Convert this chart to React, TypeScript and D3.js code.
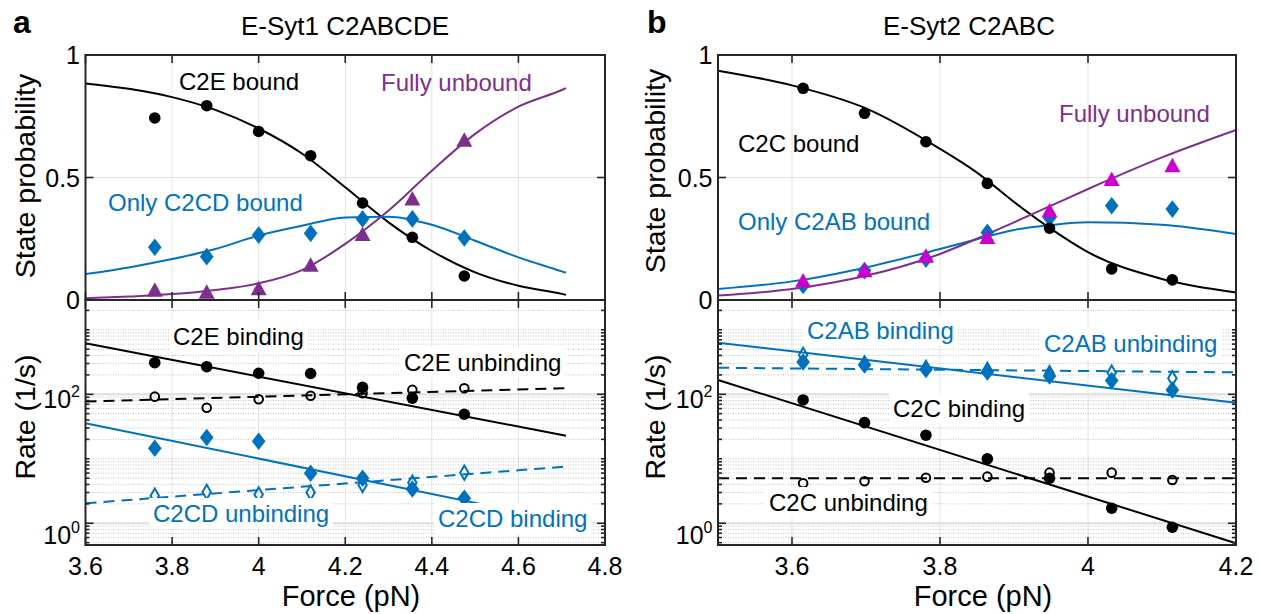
import React, { useEffect, useRef } from 'react';
import * as d3 from 'd3';

const W = 1261;
const H = 614;

const BLACK = '#000000';
const BLUE = '#0072BD';
const PURPLE = '#7E2F8E';
const MAGENTA = '#CC00CC';
const AXIS = '#262626';

// ---- panel a : E-Syt1 C2ABCDE ----
const A_X_TICKS = [3.6, 3.8, 4.0, 4.2, 4.4, 4.6, 4.8];
const A_FORCE = [3.76, 3.88, 4.0, 4.12, 4.24, 4.355, 4.475];
const A_C2E_BOUND = [0.743, 0.793, 0.688, 0.589, 0.396, 0.256, 0.098];
const A_C2CD_BOUND = [0.215, 0.177, 0.265, 0.272, 0.331, 0.331, 0.253];
const A_UNBOUND = [0.038, 0.03, 0.044, 0.14, 0.265, 0.41, 0.65];

const A_FIT_FORCE = [3.6, 3.7, 3.8, 3.9, 4.0, 4.1, 4.2, 4.3, 4.4, 4.5, 4.6, 4.7, 4.71];
const A_FIT_C2E = [0.884, 0.862, 0.828, 0.776, 0.7, 0.598, 0.46, 0.317, 0.2, 0.113, 0.058, 0.025, 0.021];
const A_FIT_C2CD = [0.106, 0.133, 0.167, 0.208, 0.263, 0.303, 0.337, 0.34, 0.307, 0.242, 0.174, 0.117, 0.111];
const A_FIT_UNBOUND = [0.007, 0.014, 0.024, 0.041, 0.068, 0.122, 0.229, 0.365, 0.528, 0.678, 0.789, 0.857, 0.865];

const A_C2E_ON = [309, 268, 212, 210, 128, 87, 49];
const A_C2E_OFF = [92, 62, 84, 95, 104, 117, 124];
const A_C2CD_ON = [14.6, 21.4, 18.7, 5.96, 4.99, 3.4, 2.44];
const A_C2CD_OFF = [2.67, 3.06, 2.8, 3.0, 3.93, 4.26, 6.09];

const A_RATE_FIT_FORCE = [3.6, 4.71];
const A_FIT_C2E_ON = [618, 22.8];
const A_FIT_C2E_OFF = [77, 124];
const A_FIT_C2CD_ON = [35.6, 1.07];
const A_FIT_C2CD_OFF = [2.04, 7.55];

// ---- panel b : E-Syt2 C2ABC ----
const B_X_TICKS = [3.6, 3.8, 4.0, 4.2];
const B_FORCE = [3.615, 3.698, 3.781, 3.864, 3.948, 4.032, 4.114];
const B_C2C_BOUND = [0.864, 0.762, 0.646, 0.476, 0.293, 0.127, 0.082];
const B_C2AB_BOUND = [0.059, 0.12, 0.167, 0.276, 0.335, 0.385, 0.371];
const B_UNBOUND = [0.076, 0.117, 0.177, 0.253, 0.361, 0.49, 0.546];

const B_FIT_FORCE = [3.5, 3.6, 3.7, 3.8, 3.85, 3.9, 3.95, 4.0, 4.1, 4.2];
const B_FIT_C2C = [0.936, 0.876, 0.782, 0.617, 0.52, 0.4, 0.29, 0.195, 0.086, 0.031];
const B_FIT_C2AB = [0.045, 0.076, 0.133, 0.208, 0.248, 0.286, 0.306, 0.317, 0.307, 0.269];
const B_FIT_UNBOUND = [0.018, 0.045, 0.099, 0.188, 0.25, 0.317, 0.385, 0.453, 0.582, 0.694];

const B_C2C_ON = [81.7, 36.3, 23.2, 10.0, 4.99, 1.71, 0.867];
const B_C2C_OFF = [4.17, 4.48, 5.08, 5.28, 6.09, 6.09, 4.69];
const B_C2AB_ON = [317, 285, 243, 222, 192, 163, 117];
const B_C2AB_OFF = [407, 301, 256, 238, 212, 216, 177];

const B_RATE_FIT_FORCE = [3.5, 4.2];
const B_FIT_C2C_ON = [167, 0.49];
const B_FIT_C2C_OFF = [4.99, 4.99];
const B_FIT_C2AB_ON = [631, 74];
const B_FIT_C2AB_OFF = [258, 219];

const PROB_TICKS = [0, 0.5, 1];
const RATE_TICKS = [1, 100];
const RATE_TICK_EXP = ['0', '2'];
const RATE_DOMAIN = [0.46, 2900];

const FONT = '"Liberation Sans", Arial, Helvetica, sans-serif';

const fmt = (v: number) => String(+v.toFixed(1));

function txt(g: any, x: number, y: number, s: string, o: any = {}) {
  const t = g.append('text')
    .attr('x', x)
    .attr('y', y)
    .attr('fill', o.color || '#000')
    .attr('text-anchor', o.anchor || 'start')
    .style('font-size', `${o.size || 24}px`)
    .text(s);
  if (o.bold) t.style('font-weight', 'bold');
  if (o.rotate) t.attr('transform', `rotate(-90,${x},${y})`);
  if (o.bg) {
    const b = t.node().getBBox();
    g.insert('rect', () => t.node())
      .attr('x', b.x - 4)
      .attr('y', b.y - 2)
      .attr('width', b.width + 8)
      .attr('height', b.height + 4)
      .attr('fill', '#fff');
  }
  return t;
}

function marker(g: any, xs: number[], ys: number[], x: any, y: any, kind: string, color: string) {
  const diamond = (w: number, h: number) => `M0,${-h}L${w},0L0,${h}L${-w},0Z`;
  xs.forEach((f, i) => {
    const cx = x(f);
    const cy = y(ys[i]);
    let el;
    if (kind === 'dot') {
      el = g.append('circle').attr('r', 5.8).attr('fill', color);
    } else if (kind === 'ring') {
      el = g.append('circle').attr('r', 4.3).attr('fill', 'none').attr('stroke', color).attr('stroke-width', 2);
    } else if (kind === 'diamond') {
      el = g.append('path').attr('d', diamond(6.8, 8.8)).attr('fill', color);
    } else if (kind === 'odiamond') {
      el = g.append('path').attr('d', diamond(4.2, 7.2)).attr('fill', 'none').attr('stroke', color).attr('stroke-width', 2);
    } else {
      el = g.append('path').attr('d', 'M0,-8.5L8,6L-8,6Z').attr('fill', color);
    }
    el.attr('transform', `translate(${cx},${cy})`);
  });
}

function frame(g: any, x: any, y: any, xTicks: number[], yMajor: number[], yMinor: number[]) {
  const [x0, x1] = x.range();
  const [yb, yt] = y.range();
  const tick = (a: number, b: number, c: number, d: number) =>
    g.append('line').attr('x1', a).attr('y1', b).attr('x2', c).attr('y2', d)
      .attr('stroke', AXIS).attr('stroke-width', 1.6);
  xTicks.forEach(t => {
    tick(x(t), yb, x(t), yb - 8);
    tick(x(t), yt, x(t), yt + 8);
  });
  yMajor.forEach(t => {
    tick(x0, y(t), x0 + 8, y(t));
    tick(x1, y(t), x1 - 8, y(t));
  });
  yMinor.forEach(t => {
    tick(x0, y(t), x0 + 4, y(t));
    tick(x1, y(t), x1 - 4, y(t));
  });
  g.append('rect')
    .attr('x', x0).attr('y', yt)
    .attr('width', x1 - x0).attr('height', yb - yt)
    .attr('fill', 'none').attr('stroke', AXIS).attr('stroke-width', 2);
}

function drawPanel(svg: any, p: any) {
  const g = svg.append('g');
  const x = d3.scaleLinear().domain(p.xDomain).range([p.left, p.right]);
  const yP = d3.scaleLinear().domain([0, 1]).range([300, 55]);
  const yR = d3.scaleLog().domain(RATE_DOMAIN).range([545, 300]);

  // minor log ticks
  const minor: number[] = [];
  for (let e = -1; e <= 3; e++) {
    for (let k = 1; k <= 9; k++) {
      const v = k * Math.pow(10, e);
      if (v > RATE_DOMAIN[0] && v < RATE_DOMAIN[1] && !RATE_TICKS.includes(v)) minor.push(v);
    }
  }

  // ----- grids -----
  const inner = p.xTicks.filter((t: number) => x(t) > p.left + 1 && x(t) < p.right - 1);
  inner.forEach((t: number) => {
    g.append('line').attr('x1', x(t)).attr('x2', x(t)).attr('y1', 55).attr('y2', 545)
      .attr('stroke', '#e3e3e3').attr('stroke-width', 1);
  });
  g.append('line').attr('x1', p.left).attr('x2', p.right).attr('y1', yP(0.5)).attr('y2', yP(0.5))
    .attr('stroke', '#e3e3e3').attr('stroke-width', 1);
  minor.forEach(v => {
    g.append('line').attr('x1', p.left).attr('x2', p.right).attr('y1', yR(v)).attr('y2', yR(v))
      .attr('stroke', '#c4c4c4').attr('stroke-width', 1).attr('stroke-dasharray', '1,1.5');
  });
  RATE_TICKS.forEach(v => {
    g.append('line').attr('x1', p.left).attr('x2', p.right).attr('y1', yR(v)).attr('y2', yR(v))
      .attr('stroke', '#e2e2e2').attr('stroke-width', 2.5);
  });

  // ----- probability fits -----
  const probLine = (fx: number[]) => d3.line<number>()
    .x((_, i) => x(fx[i]))
    .y(d => yP(d))
    .curve(d3.curveMonotoneX);
  p.probFits.forEach((s: any) => {
    g.append('path').datum(s.values).attr('d', probLine(p.fitForce))
      .attr('fill', 'none').attr('stroke', s.color).attr('stroke-width', 2);
  });
  p.probPoints.forEach((s: any) => marker(g, p.force, s.values, x, yP, s.kind, s.color));

  // ----- rate fits -----
  const rateLine = (fx: number[]) => d3.line<number>()
    .x((_, i) => x(fx[i]))
    .y(d => yR(d));
  p.rateFits.forEach((s: any) => {
    const path = g.append('path').datum(s.values).attr('d', rateLine(p.rateFitForce))
      .attr('fill', 'none').attr('stroke', s.color).attr('stroke-width', 2);
    if (s.dashed) path.attr('stroke-dasharray', '11,7');
  });
  p.ratePoints.forEach((s: any) => marker(g, p.force, s.values, x, yR, s.kind, s.color));

  // ----- text labels -----
  p.probLabels.forEach((l: any) => txt(g, l.x, l.y, l.text, { color: l.color, size: 24 }));
  p.rateLabels.forEach((l: any) => txt(g, l.x, l.y, l.text, { color: l.color, size: 24, bg: true }));

  // ----- frames and ticks -----
  frame(g, x, yP, p.xTicks, PROB_TICKS, []);
  frame(g, x, yR, p.xTicks, RATE_TICKS, minor);

  // ----- tick labels -----
  p.xTicks.forEach((t: number) => txt(g, x(t), 575, fmt(t), { anchor: 'middle', size: 25 }));
  PROB_TICKS.forEach(t => txt(g, p.left - 5.5, yP(t) + 9, fmt(t), { anchor: 'end', size: 25 }));
  RATE_TICKS.forEach((t, i) => {
    const te = txt(g, p.left - 5.5, yR(t) + (i === 0 ? 21 : 14), '10', { anchor: 'end', size: 25 });
    te.append('tspan').attr('dy', -11).style('font-size', '16px').text(RATE_TICK_EXP[i]);
  });

  // ----- axis titles -----
  txt(g, p.xLabelX, 606, 'Force (pN)', { anchor: 'middle', size: 29 });
  txt(g, p.yLabelX, p.probLabelY, 'State probability', { anchor: 'middle', size: 28.5, rotate: true });
  txt(g, p.yLabelX, 417, 'Rate (1/s)', { anchor: 'middle', size: 28.5, rotate: true });
  txt(g, p.titleX, 35, p.title, { anchor: 'middle', size: 26 });
  txt(g, p.letterX, 33, p.letter, { size: 32, bold: true });
}

const PANEL_A = {
  left: 85.5, right: 605, xDomain: [3.6, 4.8], xTicks: A_X_TICKS,
  force: A_FORCE, fitForce: A_FIT_FORCE, rateFitForce: A_RATE_FIT_FORCE,
  probFits: [
    { values: A_FIT_C2E, color: BLACK },
    { values: A_FIT_C2CD, color: BLUE },
    { values: A_FIT_UNBOUND, color: PURPLE },
  ],
  probPoints: [
    { values: A_C2E_BOUND, kind: 'dot', color: BLACK },
    { values: A_C2CD_BOUND, kind: 'diamond', color: BLUE },
    { values: A_UNBOUND, kind: 'tri', color: PURPLE },
  ],
  rateFits: [
    { values: A_FIT_C2E_ON, color: BLACK },
    { values: A_FIT_C2E_OFF, color: BLACK, dashed: true },
    { values: A_FIT_C2CD_ON, color: BLUE },
    { values: A_FIT_C2CD_OFF, color: BLUE, dashed: true },
  ],
  ratePoints: [
    { values: A_C2E_ON, kind: 'dot', color: BLACK },
    { values: A_C2E_OFF, kind: 'ring', color: BLACK },
    { values: A_C2CD_ON, kind: 'diamond', color: BLUE },
    { values: A_C2CD_OFF, kind: 'odiamond', color: BLUE },
  ],
  probLabels: [
    { text: 'C2E bound', x: 179, y: 90, color: BLACK },
    { text: 'Fully unbound', x: 381, y: 91, color: PURPLE },
    { text: 'Only C2CD bound', x: 108, y: 211, color: BLUE },
  ],
  rateLabels: [
    { text: 'C2E binding', x: 173, y: 345, color: BLACK },
    { text: 'C2E unbinding', x: 404, y: 371, color: BLACK },
    { text: 'C2CD unbinding', x: 153, y: 522, color: BLUE },
    { text: 'C2CD binding', x: 438, y: 527, color: BLUE },
  ],
  xLabelX: 351, yLabelX: 35, probLabelY: 176,
  title: 'E-Syt1 C2ABCDE', titleX: 345, letter: 'a', letterX: 13,
};

const PANEL_B = {
  left: 718, right: 1236, xDomain: [3.5, 4.2], xTicks: B_X_TICKS,
  force: B_FORCE, fitForce: B_FIT_FORCE, rateFitForce: B_RATE_FIT_FORCE,
  probFits: [
    { values: B_FIT_C2C, color: BLACK },
    { values: B_FIT_C2AB, color: BLUE },
    { values: B_FIT_UNBOUND, color: PURPLE },
  ],
  probPoints: [
    { values: B_C2AB_BOUND, kind: 'diamond', color: BLUE },
    { values: B_UNBOUND, kind: 'tri', color: MAGENTA },
    { values: B_C2C_BOUND, kind: 'dot', color: BLACK },
  ],
  rateFits: [
    { values: B_FIT_C2C_ON, color: BLACK },
    { values: B_FIT_C2C_OFF, color: BLACK, dashed: true },
    { values: B_FIT_C2AB_ON, color: BLUE },
    { values: B_FIT_C2AB_OFF, color: BLUE, dashed: true },
  ],
  ratePoints: [
    { values: B_C2C_ON, kind: 'dot', color: BLACK },
    { values: B_C2C_OFF, kind: 'ring', color: BLACK },
    { values: B_C2AB_ON, kind: 'diamond', color: BLUE },
    { values: B_C2AB_OFF, kind: 'odiamond', color: BLUE },
  ],
  probLabels: [
    { text: 'C2C bound', x: 738, y: 152, color: BLACK },
    { text: 'Fully unbound', x: 1059, y: 122, color: PURPLE },
    { text: 'Only C2AB bound', x: 738, y: 230, color: BLUE },
  ],
  rateLabels: [
    { text: 'C2AB binding', x: 807, y: 339, color: BLUE },
    { text: 'C2AB unbinding', x: 1044, y: 352, color: BLUE },
    { text: 'C2C binding', x: 893, y: 417, color: BLACK },
    { text: 'C2C unbinding', x: 769, y: 511, color: BLACK },
  ],
  xLabelX: 983, yLabelX: 665, probLabelY: 171,
  title: 'E-Syt2 C2ABC', titleX: 969, letter: 'b', letterX: 647,
};

export default function App() {
  const svgRef = useRef<SVGSVGElement>(null);

  useEffect(() => {
    const svg = d3.select(svgRef.current);
    svg.selectAll('*').remove();
    svg.append('rect').attr('width', W).attr('height', H).attr('fill', '#fff');
    drawPanel(svg, PANEL_A);
    drawPanel(svg, PANEL_B);
  }, []);

  return (
    <svg
      ref={svgRef}
      width={W}
      height={H}
      style={{ position: 'absolute', left: 0, top: 0, fontFamily: FONT }}
    />
  );
}
